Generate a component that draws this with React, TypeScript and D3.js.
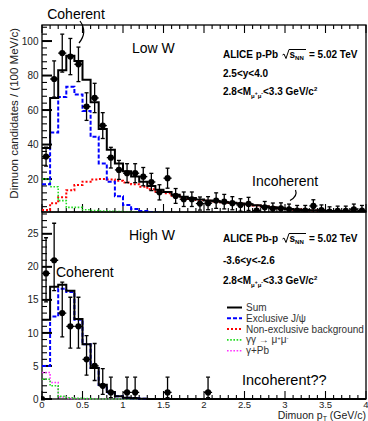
import React from "react";
import * as d3 from "d3";

// ---- binning: 0.1 GeV/c bins from 0 to 4 GeV/c ----
const BIN_WIDTH = 0.1;

// ---- Low W (p-Pb) ----
const lowWData = [33, 78, 93, 91, 86.5, 62, 67, 51, 32.4, 25.3, 23.4, 23.4, 21.4, 18.3, 12.3, 20.5, 10.2, 8.3, 8.3, 5.8, 6, 7.5, 6.9, 6, 5, 5.6, 1.7, 3.6, 2.9, 3, 2.5, 1.7, 1.7, 4.4, 2, 1.1, 1.5, 1.5, 2.5, 1.7];
const lowWErr = [5.5, 10.5, 11, 10.5, 10, 8, 8.5, 7.5, 6, 5.5, 5.5, 5.5, 5.3, 5, 4.4, 5.8, 4.3, 4.2, 4.2, 3.8, 3.8, 4.5, 4.2, 3.8, 3.6, 3.8, 3, 3.4, 3.2, 3.2, 3, 3, 3, 3.6, 3, 2.8, 2.8, 2.8, 3, 3];
const lowWSum = [38, 67, 83, 91.5, 88.5, 77.5, 64.5, 49, 37, 29, 24.5, 21.5, 18.5, 16, 13.8, 12.5, 10.9, 9.8, 9, 8.2, 7.6, 7.1, 6.6, 6.2, 5.8, 5.4, 4.8, 4.2, 3.6, 3.1, 2.7, 2.4, 2.1, 1.9, 1.7, 1.5, 1.4, 1.3, 1.2, 1.1];
const lowWExclusive = [17, 47, 67.5, 73.5, 69, 59.5, 44.5, 29, 18.5, 10, 5, 2.7, 1.5, 0.8, 0.5, 0.3, 0.2, 0.1, 0, 0, 0, 0, 0, 0, 0, 0, 0, 0, 0, 0, 0, 0, 0, 0, 0, 0, 0, 0, 0, 0];
const lowWBackground = [2, 6, 9.5, 13.5, 16.5, 18.5, 19.8, 20, 19.8, 19, 18, 17, 15.6, 14.1, 12.7, 11.8, 10.3, 9.3, 8.5, 7.9, 7.4, 7, 6.5, 6.1, 5.7, 5.3, 4.7, 4.1, 3.5, 3, 2.6, 2.3, 2, 1.8, 1.6, 1.4, 1.3, 1.2, 1.1, 1.05];
const lowWGammaGamma = [20, 15.5, 7.5, 3.6, 3.6, 2.2, 1.8, 1.5, 1.3, 1.1, 1, 0.9, 0.8, 0.7, 0.6, 0.5, 0.4, 0.3, 0.2, 0.1, 0, 0, 0, 0, 0, 0, 0, 0, 0, 0, 0, 0, 0, 0, 0, 0, 0, 0, 0, 0];

// ---- High W (Pb-p) ----
const highWPt = [0, 0.05, 0.15, 0.25, 0.35, 0.45, 0.55, 0.65, 0.75, 0.85, 1.05, 1.15, 1.55, 2.05];
const highWData = [0, 19, 21, 13, 11, 11, 6, 5, 2, 1, 1, 1, 1, 1];
const highWErrLo = [0, 4.3, 4.6, 3.6, 3.3, 3.3, 2.4, 2.2, 1.3, 0.8, 0.8, 0.8, 0.8, 0.8];
const highWErrHi = [0, 5.4, 5.6, 4.7, 4.4, 4.4, 3.6, 3.4, 2.6, 2.3, 2.3, 2.3, 2.3, 2.3];
const highWSum = [12, 17, 17.3, 16.4, 12.1, 8.3, 4.7, 2.15, 1.05, 0.4, 0.2, 0.1, 0.05, 0, 0, 0, 0, 0, 0, 0, 0, 0, 0, 0, 0, 0, 0, 0, 0, 0, 0, 0, 0, 0, 0, 0, 0, 0, 0, 0];
const highWExclusive = [5, 12.5, 16.7, 16.2, 12, 8.3, 4.7, 2.1, 1, 0.4, 0.2, 0.1, 0.05, 0, 0, 0, 0, 0, 0, 0, 0, 0, 0, 0, 0, 0, 0, 0, 0, 0, 0, 0, 0, 0, 0, 0, 0, 0, 0, 0];
const highWGammaGamma = [3, 2, 0.4, 0.2, 0.1, 0.05, 0, 0, 0, 0, 0, 0, 0, 0, 0, 0, 0, 0, 0, 0, 0, 0, 0, 0, 0, 0, 0, 0, 0, 0, 0, 0, 0, 0, 0, 0, 0, 0, 0, 0];
const highWGammaPb = [4, 2.5, 0.3, 0.1, 0.05, 0, 0, 0, 0, 0, 0, 0, 0, 0, 0, 0, 0, 0, 0, 0, 0, 0, 0, 0, 0, 0, 0, 0, 0, 0, 0, 0, 0, 0, 0, 0, 0, 0, 0, 0];

// ---- axis ticks ----
const xTickLabels = ["0", "0.5", "1", "1.5", "2", "2.5", "3", "3.5", "4"];
const lowWTicks = [20, 40, 60, 80, 100];
const highWTicks = [0, 5, 10, 15, 20, 25];

const legendLabels = ["Sum", "Exclusive J/\u03c8", "Non-exclusive background", "\u03b3\u03b3 \u2192 \u03bc+\u03bc-", "\u03b3+Pb"];

const FONT = "'Liberation Sans', Arial, Helvetica, sans-serif";
const BLUE = "#0000ff";
const RED = "#ff0000";
const GREEN = "#22dd22";
const MAGENTA = "#ff33ff";

const X0 = 42, X1 = 366;
const TOP0 = 25, TOP1 = 212, BOT1 = 399;

const x = d3.scaleLinear().domain([0, 4]).range([X0, X1]);
const yLow = d3.scaleLinear().domain([0.9, 109.3]).range([TOP1, TOP0]);
const yHigh = d3.scaleLinear().domain([0, 28.3]).range([BOT1, TOP1]);

type Style = { color: string; width: number; dash?: string };
const SUM_STYLE: Style = { color: "#000", width: 2 };
const EXCL_STYLE: Style = { color: BLUE, width: 2, dash: "4,2" };
const BKG_STYLE: Style = { color: RED, width: 2, dash: "2,2" };
const GG_STYLE: Style = { color: GREEN, width: 1.6, dash: "1.6,1.6" };
const GPB_STYLE: Style = { color: MAGENTA, width: 1.6, dash: "1.6,1.6" };
const legendStyles = [SUM_STYLE, EXCL_STYLE, BKG_STYLE, GG_STYLE, GPB_STYLE];

function stepPath(values: number[], y: d3.ScaleLinear<number, number>) {
  const pts: [number, number][] = values.flatMap((v, i) => [
    [i * BIN_WIDTH, v] as [number, number],
    [(i + 1) * BIN_WIDTH, v] as [number, number],
  ]);
  return d3.line<[number, number]>().x((d) => x(d[0])).y((d) => y(d[1]))(pts) || "";
}

function Hist({ values, y, s }: { values: number[]; y: d3.ScaleLinear<number, number>; s: Style }) {
  return <path d={stepPath(values, y)} fill="none" stroke={s.color} strokeWidth={s.width} strokeDasharray={s.dash} />;
}

function Points({ pts, vals, lo, hi, y }: { pts: number[]; vals: number[]; lo: number[]; hi: number[]; y: d3.ScaleLinear<number, number> }) {
  return (
    <g>
      {pts.map((p, i) => {
        const v = vals[i];
        const cx = x(p), cy = y(v);
        const showErr = hi[i] > 0;
        const yt = y(v + hi[i]), yb = y(Math.max(v - lo[i], y.domain()[0] - 1));
        return (
          <g key={i} stroke="#000" strokeWidth={1.3}>
            {showErr && <line x1={cx} x2={cx} y1={yt} y2={yb} />}
            {showErr && <line x1={cx - 2} x2={cx + 2} y1={yt} y2={yt} />}
            {showErr && v - lo[i] > y.domain()[0] && <line x1={cx - 2} x2={cx + 2} y1={yb} y2={yb} />}
            {showErr && <line x1={x(p - BIN_WIDTH / 2)} x2={x(p + BIN_WIDTH / 2)} y1={cy} y2={cy} />}
            <circle cx={cx} cy={cy} r={3.1} fill="#000" stroke="none" />
          </g>
        );
      })}
    </g>
  );
}

function Frame({ y, yTop, yBottom, major, minorStep, topTicks, bottomTicks }: {
  y: d3.ScaleLinear<number, number>; yTop: number; yBottom: number; major: number[]; minorStep: number; topTicks: boolean; bottomTicks: boolean;
}) {
  const [d0, d1] = y.domain();
  const minors = d3.range(Math.ceil(d0 / minorStep) * minorStep, d1, minorStep).filter((v) => !major.includes(Math.round(v * 1000) / 1000));
  const xMinor = x.ticks(40);
  const xMajor = x.ticks(8);
  return (
    <g>
      <rect x={X0} y={yTop} width={X1 - X0} height={yBottom - yTop} fill="none" stroke="#000" strokeWidth={1.3} />
      {major.filter((v) => v >= d0).map((v) => (
        <line key={"M" + v} x1={X0} x2={X0 + 10} y1={y(v)} y2={y(v)} stroke="#000" strokeWidth={2} />
      ))}
      {minors.map((v) => (
        <line key={"m" + v} x1={X0} x2={X0 + 5} y1={y(v)} y2={y(v)} stroke="#000" strokeWidth={1.1} />
      ))}
      {major.filter((v) => v >= d0).map((v) => (
        <text key={"L" + v} x={38.5} y={y(v) + 3.6} textAnchor="end" fontSize={10} fill="#222" fontFamily={FONT}>{v}</text>
      ))}
      {bottomTicks && xMinor.map((t) => {
        const isMajor = xMajor.some((m) => Math.abs(m - t) < 1e-6);
        return <line key={"xb" + t} x1={x(t)} x2={x(t)} y1={yBottom} y2={yBottom - (isMajor ? 8 : 4)} stroke="#000" strokeWidth={1.1} />;
      })}
      {topTicks && xMinor.map((t) => {
        const isMajor = xMajor.some((m) => Math.abs(m - t) < 1e-6);
        return <line key={"xt" + t} x1={x(t)} x2={x(t)} y1={yTop} y2={yTop + (isMajor ? 8 : 4)} stroke="#000" strokeWidth={1.1} />;
      })}
    </g>
  );
}

function Sqrt({ x0, base, label }: { x0: number; base: number; label: string }) {
  // radical sign with overline over s_NN
  return (
    <g fontFamily={FONT} fontWeight="bold">
      <path d={`M${x0} ${base - 3} L${x0 + 1.5} ${base - 4} L${x0 + 3.5} ${base + 0.5} L${x0 + 6.5} ${base - 8.5} L${x0 + 23.5} ${base - 8.5}`} fill="none" stroke="#000" strokeWidth={1} />
      <text x={x0 + 7} y={base} fontSize={10}>s<tspan fontSize={6} dy={2}>NN</tspan></text>
      <text x={x0 + 26.5} y={base} fontSize={10}>{label}</text>
    </g>
  );
}

function MassText({ xPos, base }: { xPos: number; base: number }) {
  return (
    <text x={xPos} y={base} fontFamily={FONT} fontWeight="bold" fontSize={10}>
      2.8&lt;M<tspan fontSize={6} dy={2.5}>{"\u03bc"}</tspan><tspan fontSize={5} dy={-3}>+</tspan>
      <tspan fontSize={6} dy={3}>{"\u03bc"}</tspan><tspan fontSize={5} dy={-3}>-</tspan>
      <tspan dy={0.5}>&lt;3.3 GeV/c</tspan><tspan fontSize={6} dy={-4}>2</tspan>
    </text>
  );
}

export default function App() {
  const legendY0 = 307.5;
  const legendStep = 10.8;
  return (
    <svg width={368} height={421} style={{ position: "fixed", left: 0, top: 0, background: "#fff" }}>
      <defs>
        <clipPath id="clipLow"><rect x={X0} y={TOP0} width={X1 - X0} height={TOP1 - TOP0} /></clipPath>
        <clipPath id="clipHigh"><rect x={X0 - 1} y={TOP1} width={X1 - X0 + 2} height={BOT1 - TOP1 + 1.5} /></clipPath>
      </defs>
      <rect x={0} y={0} width={368} height={421} fill="#fff" />

      {/* Low W panel */}
      <Frame y={yLow} yTop={TOP0} yBottom={TOP1} major={lowWTicks} minorStep={4} topTicks={true} bottomTicks={true} />
      <g clipPath="url(#clipLow)">
        <Hist values={lowWBackground} y={yLow} s={BKG_STYLE} />
        <Hist values={lowWGammaGamma} y={yLow} s={GG_STYLE} />
        <Hist values={lowWExclusive} y={yLow} s={EXCL_STYLE} />
        <Hist values={lowWSum} y={yLow} s={SUM_STYLE} />
        <Points pts={lowWData.map((_, i) => (i + 0.5) * BIN_WIDTH)} vals={lowWData} lo={lowWErr} hi={lowWErr} y={yLow} />
      </g>

      {/* High W panel */}
      <Frame y={yHigh} yTop={TOP1} yBottom={BOT1} major={highWTicks} minorStep={1} topTicks={false} bottomTicks={true} />
      <g clipPath="url(#clipHigh)">
        <Hist values={highWGammaPb} y={yHigh} s={GPB_STYLE} />
        <Hist values={highWGammaGamma} y={yHigh} s={GG_STYLE} />
        <Hist values={highWExclusive} y={yHigh} s={EXCL_STYLE} />
        <Hist values={highWSum} y={yHigh} s={SUM_STYLE} />
        <Points pts={highWPt} vals={highWData} lo={highWErrLo} hi={highWErrHi} y={yHigh} />
      </g>

      {/* x tick labels */}
      {xTickLabels.map((t) => (
        <text key={t} x={x(+t)} y={407.5} textAnchor="middle" fontSize={9.5} fill="#222" fontFamily={FONT}>{t}</text>
      ))}
      <text x={X1} y={419} textAnchor="end" fontSize={10.5} fill="#222" fontFamily={FONT}>
        Dimuon p<tspan fontSize={7} dy={1.5}>T</tspan><tspan dy={-1.5}> (GeV/c)</tspan>
      </text>
      <text transform="translate(18,28) rotate(-90)" textAnchor="end" fontSize={11.5} fill="#222" fontFamily={FONT}>
        Dimuon candidates / (100 MeV/c)
      </text>

      {/* Low W annotations */}
      <text x={76} y={19} textAnchor="middle" fontSize={14} fontFamily={FONT}>Coherent</text>
      <path d="M80 21 Q88 32 79 43" fill="none" stroke="#000" strokeWidth={1.2} />
      <text x={132} y={53} fontSize={14} fontFamily={FONT}>Low W</text>
      <text x={223} y={58} fontSize={10} fontWeight="bold" fontFamily={FONT}>ALICE p-Pb</text>
      <Sqrt x0={282.5} base={58} label="= 5.02 TeV" />
      <text x={223} y={77} fontSize={10} fontWeight="bold" fontFamily={FONT}>2.5&lt;y&lt;4.0</text>
      <MassText xPos={223} base={95} />
      <text x={252} y={186} fontSize={14} fontFamily={FONT}>Incoherent</text>
      <path d="M295.5 190 Q298 196 290 200.5" fill="none" stroke="#000" strokeWidth={1.2} />

      {/* High W annotations */}
      <text x={129} y={240} fontSize={14} fontFamily={FONT}>High W</text>
      <text x={56} y={276.5} fontSize={14} fontFamily={FONT}>Coherent</text>
      <text x={223} y={242} fontSize={10} fontWeight="bold" fontFamily={FONT}>ALICE Pb-p</text>
      <Sqrt x0={282.5} base={242} label="= 5.02 TeV" />
      <text x={223} y={264} fontSize={10} fontWeight="bold" fontFamily={FONT}>-3.6&lt;y&lt;-2.6</text>
      <MassText xPos={223} base={284} />

      {/* legend */}
      {legendLabels.map((lab, i) => {
        const cy = legendY0 + i * legendStep;
        const s = legendStyles[i];
        return (
          <g key={lab}>
            <line x1={227} x2={242} y1={cy} y2={cy} stroke={s.color} strokeWidth={s.width} strokeDasharray={s.dash} />
            {i === 3 ? (
              <text x={246} y={cy + 3.5} fontSize={10} fill="#333" fontFamily={FONT}>
                {"\u03b3\u03b3 \u2192 \u03bc"}<tspan fontSize={6} dy={-3.5}>+</tspan><tspan dy={3.5}>{"\u03bc"}</tspan><tspan fontSize={6} dy={-3.5}>-</tspan>
              </text>
            ) : (
              <text x={246} y={cy + 3.5} fontSize={10} fill="#333" fontFamily={FONT}>{lab}</text>
            )}
          </g>
        );
      })}
      <text x={242} y={385} fontSize={14.5} fontFamily={FONT}>Incoherent??</text>
    </svg>
  );
}
